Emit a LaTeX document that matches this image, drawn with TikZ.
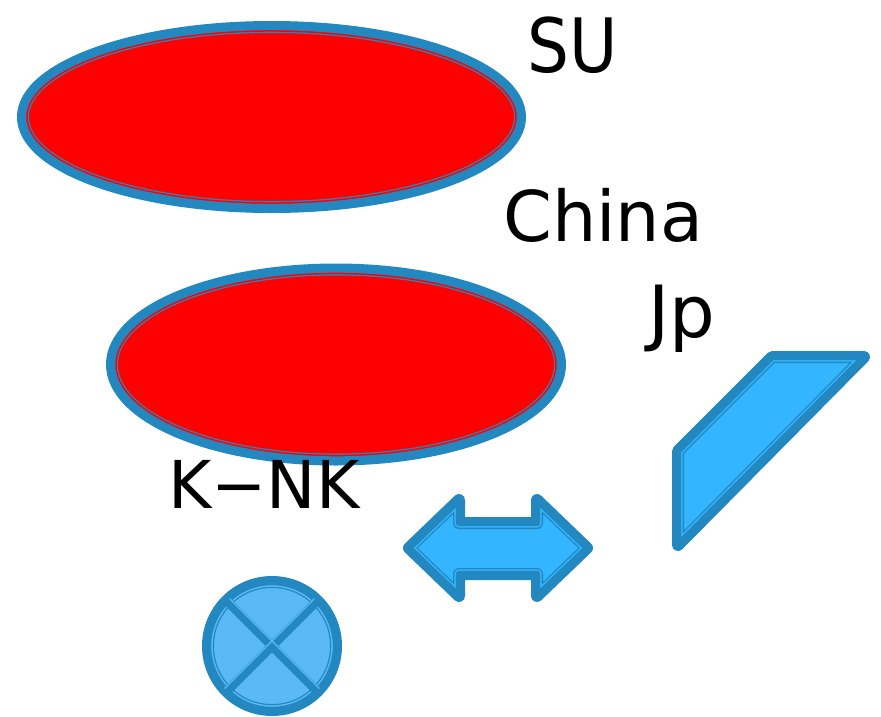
\documentclass[tikz,border=0pt]{standalone}
\usepackage{fontspec}
\usepackage{graphicx}
\setmainfont{DejaVu Sans}
\definecolor{bl}{HTML}{2388BF}
\definecolor{redf}{HTML}{FF0000}
\definecolor{arrf}{HTML}{33B5FF}
\definecolor{cirf}{HTML}{5BBAF6}
\newcommand\fancyshape[2]{%
  \path[fill=#1, draw=bl, line width=12pt, line join=round] #2;
  \begin{scope}\clip #2;
    \draw[#1, line width=9.4pt, line join=round] #2;
  \end{scope}
  \draw[bl, line width=6.4pt, line join=round] #2;
}
\tikzset{lbl/.style={anchor=base west, inner sep=0pt, text=black}}
\begin{document}
\begin{tikzpicture}[x=1pt, y=-1pt]
\useasboundingbox (0,0) rectangle (881,716);
% ellipses
\fancyshape{redf}{(271.5,117) ellipse [x radius=248.5pt, y radius=90pt]}
\fancyshape{redf}{(336,364.5) ellipse [x radius=224pt, y radius=95pt]}
% double arrow
\fancyshape{arrf}{(409,548) -- (459,500) -- (459,523) -- (537,523) -- (537,500) -- (587,548) -- (537,596) -- (537,574) -- (459,574) -- (459,596) -- cycle}
% parallelogram
\fancyshape{arrf}{(678,451) -- (772,357) -- (864,357) -- (678,545) -- cycle}
% circle with X
\fancyshape{cirf}{(272,646) circle [radius=64pt]}
\draw[bl, line width=9pt] (227,601) -- (317,691);
\draw[bl, line width=9pt] (227,691) -- (317,601);
\draw[cirf, line width=1.3pt] (229.5,598.5) -- (319.5,688.5);
\draw[cirf, line width=1.3pt] (224.5,688.5) -- (314.5,598.5);
% labels
\node[lbl] (su) at (527,72) {\fontsize{75}{80}\selectfont\scalebox{0.88}[1]{SU}};
\node[lbl] (china) at (503,241) {\fontsize{70}{74}\selectfont China};
\node[lbl] (jp) at (648,337) {\fontsize{72}{76}\selectfont Jp};
\node[lbl] (knk) at (168,508) {\fontsize{66}{70}\selectfont K−NK};
\end{tikzpicture}
\end{document}
